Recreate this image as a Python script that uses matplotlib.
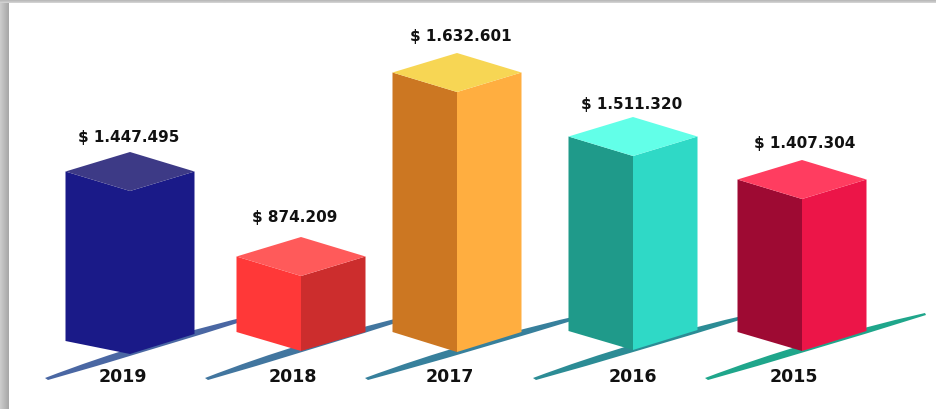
import numpy as np
import matplotlib
matplotlib.use("Agg")
import matplotlib.pyplot as plt
from matplotlib.patches import Polygon, PathPatch
from matplotlib.path import Path

# data
years = ["2019", "2018", "2017", "2016", "2015"]
value_labels = ["$ 1.447.495", "$ 874.209", "$ 1.632.601", "$ 1.511.320", "$ 1.407.304"]
# the drawn heights are not proportional to the labels, so read them off the picture
drawn_heights = [163, 75, 260, 194, 152]

# bar layout, in pixels
centers = [130, 301, 457, 633, 802]
base_front = [355, 352, 353, 351, 352]
base_left = [342, 333, 333, 332, 333]
base_right = [335, 333, 333, 331, 332]
half_width = 64.5
depth = 19.5

label_x = [129, 295, 461, 632, 805]
label_y = [138, 218, 37, 105, 144]
year_x = [123, 293, 450, 633, 794]

left_colors = ["#1a1a88", "#ff3838", "#cc7722", "#1f9a8a", "#9e0a33"]
right_colors = ["#1a1a88", "#cc2d2d", "#ffae40", "#2fd9c6", "#ec1548"]
top_colors = ["#3d3a86", "#ff5a5a", "#f7d654", "#62ffe8", "#ff3d60"]
swoosh_colors = ["#4a67a3", "#42769f", "#37809c", "#2c8c95", "#1fa68b"]
swoosh_starts = [45, 205, 365, 533, 705]
swoosh_ends = [262, 420, 590, 755, 925]

fig = plt.figure(figsize=(9.36, 4.10), dpi=100)
ax = fig.add_axes([0, 0, 1, 1])

# grey shadow round the white card
left_fade = np.linspace(0.80, 0.66, 10)[None, :]
ax.imshow(left_fade, extent=(0, 9, 410, 0), cmap="gray", vmin=0, vmax=1, aspect="auto", zorder=1)
top_fade = np.linspace(0.68, 0.82, 4)[:, None]
ax.imshow(top_fade, extent=(0, 936, 3.5, 0), cmap="gray", vmin=0, vmax=1, aspect="auto", zorder=1)
ax.set_xlim(0, 936)
ax.set_ylim(410, 0)
ax.axis("off")

# swooshes sit behind the bars
for start, end, col in zip(swoosh_starts, swoosh_ends, swoosh_colors):
    mid = (start + end) / 2 - 10
    verts = [(start, 379), (mid, 341), (end, 314), (end + 1, 316), (mid, 354), (start + 3, 381), (start, 379)]
    codes = [Path.MOVETO, Path.CURVE3, Path.CURVE3, Path.LINETO, Path.CURVE3, Path.CURVE3, Path.CLOSEPOLY]
    ax.add_patch(PathPatch(Path(verts, codes), fc=col, ec="none", zorder=2))

for i, year in enumerate(years):
    c = centers[i]
    front_top = base_front[i] - drawn_heights[i]
    shoulder = front_top - depth
    xl = c - half_width
    xr = c + half_width

    ax.add_patch(Polygon([(xl, shoulder), (c, front_top), (c, base_front[i]), (xl, base_left[i])],
                         fc=left_colors[i], ec="none", zorder=3))
    ax.add_patch(Polygon([(c, front_top), (xr, shoulder), (xr, base_right[i]), (c, base_front[i])],
                         fc=right_colors[i], ec="none", zorder=3))
    ax.add_patch(Polygon([(xl, shoulder), (c, shoulder - depth), (xr, shoulder), (c, front_top)],
                         fc=top_colors[i], ec="none", zorder=4))

    # wide heavy lettering in the original, DejaVu bold is the closest
    ax.text(label_x[i], label_y[i], value_labels[i], ha="center", va="center",
            family="DejaVu Sans", fontweight="bold", fontsize=11, color="#111111", zorder=5)
    ax.text(year_x[i], 377, year, ha="center", va="center",
            family="DejaVu Sans", fontweight="bold", fontsize=12.5, color="#111111", zorder=5)

plt.savefig("out.png", dpi=100)
